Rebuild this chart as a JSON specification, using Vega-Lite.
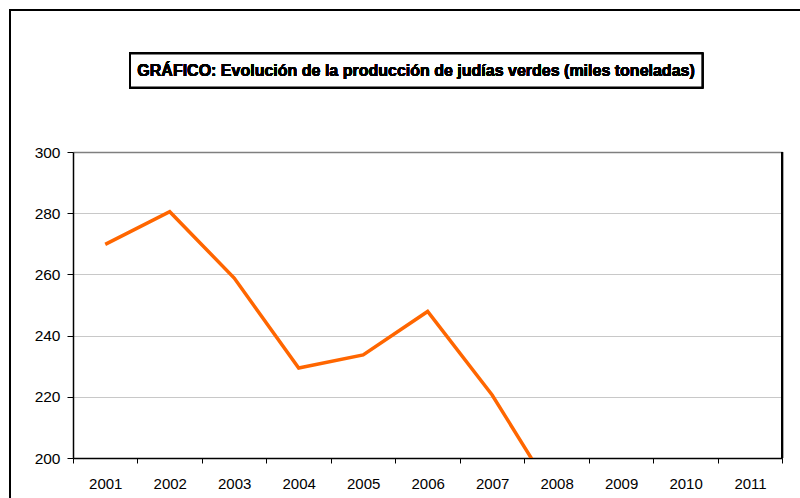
{
  "$schema": "https://vega.github.io/schema/vega-lite/v6.json",
  "autosize": "none",
  "width": 709.3,
  "height": 306,
  "padding": {"left": 73, "top": 152, "right": 17.7, "bottom": 40},
  "background": "white",
  "config": {
    "view": {"stroke": null},
    "font": "Liberation Sans",
    "axis": {"labelFont": "Liberation Sans", "labelColor": "black"}
  },
  "data": {
    "values": [
      {"year": 2001, "value": 269.8},
      {"year": 2002, "value": 280.5},
      {"year": 2003, "value": 258.8},
      {"year": 2004, "value": 229.4},
      {"year": 2005, "value": 233.7},
      {"year": 2006, "value": 247.9},
      {"year": 2007, "value": 220.6},
      {"year": 2008, "value": 186.6}
    ]
  },
  "layer": [
    {
      "mark": {"type": "line", "color": "#FF6600", "strokeWidth": 3.5, "clip": true},
      "encoding": {
        "x": {
          "field": "year",
          "type": "quantitative",
          "scale": {"domain": [2000.5, 2011.5], "nice": false, "zero": false},
          "axis": {
            "title": null,
            "values": [2000.5, 2001.5, 2002.5, 2003.5, 2004.5, 2005.5, 2006.5, 2007.5, 2008.5, 2009.5, 2010.5, 2011.5],
            "labelExpr": "datum.value < 2011 ? format(datum.value + 0.5, 'd') : ''",
            "labelOffset": 32.24,
            "labelFlush": false,
            "labelOverlap": false,
            "labelAlign": "center",
            "labelFontSize": 15,
            "labelPadding": 13,
            "tickSize": 5,
            "tickColor": "black",
            "domainColor": "black",
            "domainWidth": 1.5,
            "grid": false
          }
        },
        "y": {
          "field": "value",
          "type": "quantitative",
          "scale": {"domain": [200, 300], "nice": false, "zero": false},
          "axis": {
            "title": null,
            "values": [200, 220, 240, 260, 280, 300],
            "labelFontSize": 15.5,
            "labelPadding": 7,
            "labelFlush": false,
            "labelOverlap": false,
            "tickSize": 6,
            "tickColor": "black",
            "domainColor": "black",
            "domainWidth": 1.5,
            "grid": true,
            "gridColor": {"condition": {"test": "datum.value === 300", "value": "#7f7f7f"}, "value": "#c8c8c8"},
            "gridWidth": {"condition": {"test": "datum.value === 300", "value": 1.5}, "value": 1}
          }
        }
      }
    },
    {
      "mark": {"type": "rule", "color": "black", "strokeWidth": 1.5},
      "encoding": {
        "x": {"datum": 2011.5},
        "y": {"datum": 200},
        "y2": {"datum": 300}
      }
    },
    {
      "mark": {"type": "rect", "fill": null, "stroke": "black", "strokeWidth": 2, "clip": false},
      "encoding": {
        "x": {"datum": 1999.523},
        "x2": {"datum": 2012.2},
        "y": {"datum": 346.4},
        "y2": {"datum": 170}
      }
    },
    {
      "mark": {"type": "rect", "fill": "white", "stroke": "black", "strokeWidth": 2, "clip": false},
      "encoding": {
        "x": {"datum": 2001.384},
        "x2": {"datum": 2010.26},
        "y": {"datum": 332.19},
        "y2": {"datum": 321.08}
      }
    },
    {
      "mark": {"type": "text", "font": "Liberation Sans", "fontWeight": "bold", "fontSize": 16, "color": "black", "align": "center", "baseline": "middle", "clip": false},
      "encoding": {
        "x": {"datum": 2005.82},
        "y": {"datum": 326.63},
        "text": {"value": "GRÁFICO: Evolución de la producción de judías verdes (miles toneladas)"}
      }
    }
  ]
}
